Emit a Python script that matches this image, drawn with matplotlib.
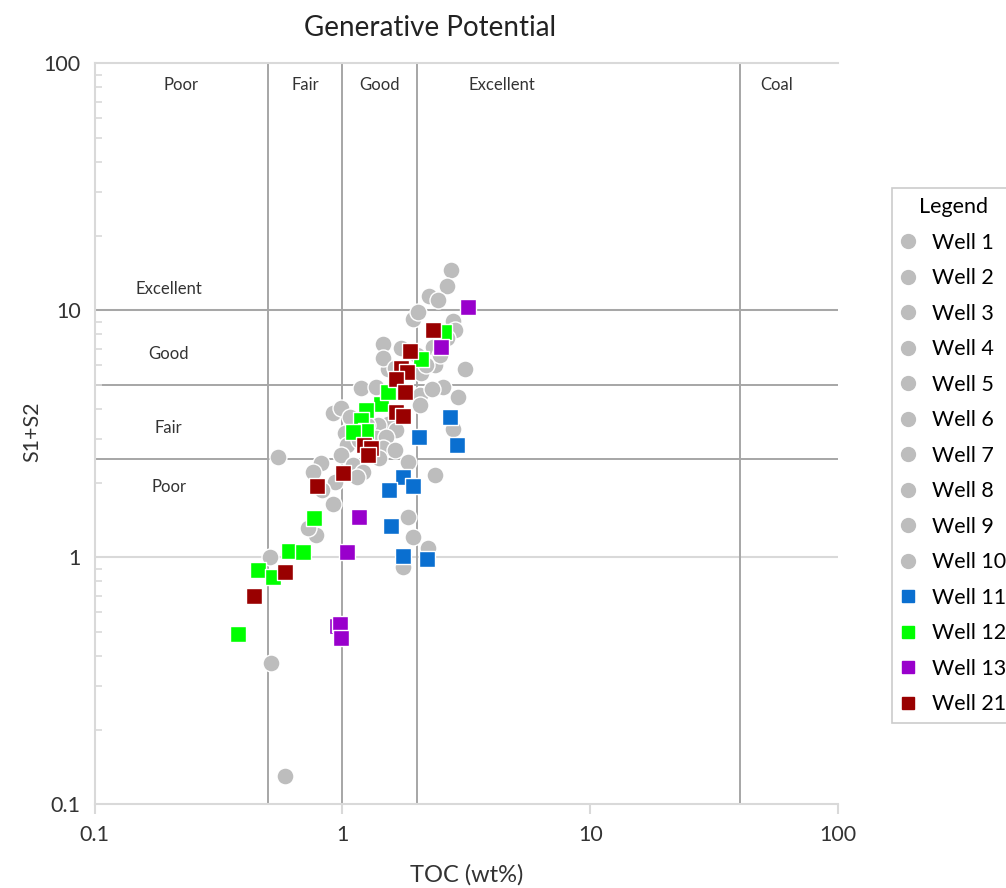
import matplotlib
matplotlib.use("Agg")
import matplotlib.pyplot as plt
from matplotlib.lines import Line2D

plt.rcParams['font.family'] = ['Lato', 'DejaVu Sans']

# ---------------- data ----------------
gray_toc = [2.75, 2.63, 2.23, 2.43, 1.93, 2.79, 2.84, 2.63, 1.46, 1.72, 2.31, 1.99, 2.36, 3.11,
            1.53, 2.07, 1.46, 1.19, 1.37, 2.05, 2.54, 2.29, 2.93, 0.916, 0.99, 1.07, 1.53, 1.39,
            1.65, 2.79, 1.37, 1.50, 1.02, 1.04, 1.46, 1.41, 0.99, 0.823, 0.761, 1.10, 1.21, 1.84,
            2.36, 0.55, 0.931, 1.14, 0.916, 1.84, 1.93, 2.21, 1.75, 0.785, 0.725, 0.509, 0.517,
            0.589, 2.01, 1.17, 1.26, 1.63, 0.825, 2.47, 2.18, 2.05, 1.63]
gray_s1s2 = [14.5, 12.5, 11.4, 11.0, 9.22, 9.05, 8.32, 7.73, 7.31, 7.03, 7.10, 6.59, 6.00, 5.76,
             5.77, 5.57, 6.39, 4.83, 4.91, 4.54, 4.91, 4.80, 4.47, 3.83, 4.01, 3.71, 3.46, 3.43,
             3.28, 3.31, 3.03, 3.08, 3.18, 2.85, 2.76, 2.52, 2.59, 2.40, 2.22, 2.36, 2.22, 2.44,
             2.15, 2.55, 2.02, 2.12, 1.65, 1.46, 1.21, 1.09, 0.916, 1.23, 1.31, 1.00, 0.374,
             0.130, 9.84, 2.98, 3.43, 2.72, 1.87, 6.59, 6.00, 4.14, 5.84]

well11_toc = [2.71, 2.03, 2.89, 1.75, 1.54, 1.92, 1.57, 1.75, 2.19]
well11_s1s2 = [3.70, 3.07, 2.85, 2.11, 1.87, 1.94, 1.34, 1.01, 0.98]

well12_toc = [1.43, 1.25, 1.19, 1.24, 1.10, 1.52, 2.08, 2.56, 0.766, 0.606, 0.696, 0.456, 0.525, 0.379]
well12_s1s2 = [4.16, 3.93, 3.60, 3.25, 3.22, 4.67, 6.35, 8.17, 1.44, 1.06, 1.05, 0.888, 0.832, 0.489]

well13_toc = [3.22, 2.50, 1.17, 1.04, 0.948, 0.975, 0.99]
well13_s1s2 = [10.3, 7.10, 1.46, 1.05, 0.527, 0.537, 0.47]

well21_toc = [2.32, 1.88, 1.73, 1.82, 1.64, 1.78, 1.64, 1.76, 1.22, 1.30, 1.27, 1.006, 0.793, 0.589, 0.439]
well21_s1s2 = [8.36, 6.84, 5.84, 5.63, 5.27, 4.65, 3.88, 3.72, 2.86, 2.78, 2.60, 2.19, 1.95, 0.869, 0.697]

gray_wells = ["Well 1", "Well 2", "Well 3", "Well 4", "Well 5", "Well 6", "Well 7",
              "Well 8", "Well 9", "Well 10"]
sq_wells = ["Well 11", "Well 12", "Well 13", "Well 21"]
sq_colors = ["#0a6fd0", "#00ff00", "#9900cc", "#990000"]

toc_bounds = [0.5, 1, 2, 40]
s1s2_bounds = [2.5, 5, 10]
top_labels = ["Poor", "Fair", "Good", "Excellent", "Coal"]
top_label_x = [0.223, 0.706, 1.41, 4.39, 56.4]
left_labels = ["Excellent", "Good", "Fair", "Poor"]
left_label_y = [12.2, 6.65, 3.34, 1.93]

# ---------------- figure ----------------
fig = plt.figure(figsize=(10.06, 8.88), dpi=100)
ax = fig.add_axes([94.5 / 1006, 1 - 804.3 / 888, (838.3 - 94.5) / 1006, (804.3 - 63.3) / 888])
ax.set_xscale('log')
ax.set_yscale('log')
ax.set_xlim(0.1, 100)
ax.set_ylim(0.1, 100)

light = '#d9d9d9'
dark = '#a6a6a6'
for yv in [1, 10]:
    ax.axhline(yv, color=light, lw=1.5, zorder=1)
for yv in s1s2_bounds:
    ax.axhline(yv, color=dark, lw=1.4, zorder=1.5)
for xv in toc_bounds:
    ax.axvline(xv, color=dark, lw=1.4, zorder=1.5)

gray = '#bdbdbd'
ax.scatter(gray_toc, gray_s1s2, s=150, marker='o', c=gray, edgecolors='white',
           linewidths=1.0, zorder=3)
for xs, ys, col in zip([well11_toc, well12_toc, well13_toc, well21_toc],
                       [well11_s1s2, well12_s1s2, well13_s1s2, well21_s1s2], sq_colors):
    ax.scatter(xs, ys, s=130, marker='s', c=col, edgecolors='white', linewidths=1.0, zorder=4)

for lab, xv in zip(top_labels, top_label_x):
    ax.text(xv, 82, lab, ha='center', va='center', fontsize=12, color='#333333')
for lab, yv in zip(left_labels, left_label_y):
    ax.text(0.199, yv, lab, ha='center', va='center', fontsize=12, color='#333333')

for side in ['top', 'bottom', 'left']:
    ax.spines[side].set_color(light)
    ax.spines[side].set_linewidth(1.5)
ax.spines['right'].set_visible(False)

ax.set_xticks([0.1, 1, 10, 100])
ax.set_xticklabels(["0.1", "1", "10", "100"])
ax.set_yticks([0.1, 1, 10, 100])
ax.set_yticklabels(["0.1", "1", "10", "100"])
ax.tick_params(axis='x', which='major', direction='out', length=7, width=1.5, color=light,
               labelsize=15.5, pad=8, labelcolor='#333333')
ax.tick_params(axis='x', which='minor', length=0)
ax.tick_params(axis='y', which='major', length=0, labelsize=15.5, pad=10, labelcolor='#333333')
ax.tick_params(axis='y', which='minor', direction='in', length=5, width=1.2, color=light)
ax.yaxis.set_minor_formatter(matplotlib.ticker.NullFormatter())
ax.xaxis.set_minor_formatter(matplotlib.ticker.NullFormatter())

xl = ax.set_xlabel("TOC (wt%)", fontsize=17, color='#333333')
xl.set_va('center')
ax.xaxis.set_label_coords(0.5, (804.3 - 875) / 741)
yl = ax.set_ylabel("S1+S2", fontsize=15.5, color='#333333')
yl.set_va('center')
ax.yaxis.set_label_coords((32 - 94.5) / 743.8, (804.3 - 432) / 741)
fig.text(430 / 1006, 1 - 28 / 888, "Generative Potential", ha='center', va='center',
         fontsize=20, color='#222222')

handles = [Line2D([], [], marker='o', ls='', color=gray, markersize=10) for _ in gray_wells]
handles += [Line2D([], [], marker='s', ls='', color=c, markersize=9) for c in sq_colors]
leg = fig.legend(handles, gray_wells + sq_wells, title="Legend", loc='upper left',
                 bbox_to_anchor=(892 / 1006, 1 - 188 / 888), frameon=True, fancybox=False,
                 fontsize=15.5, title_fontsize=15.5, handletextpad=0.77, labelspacing=0.72,
                 borderpad=0.42, handlelength=0.67, borderaxespad=0)
leg.get_frame().set_edgecolor('#bfbfbf')
leg.get_frame().set_linewidth(1.2)

fig.savefig("out.png", dpi=100)
